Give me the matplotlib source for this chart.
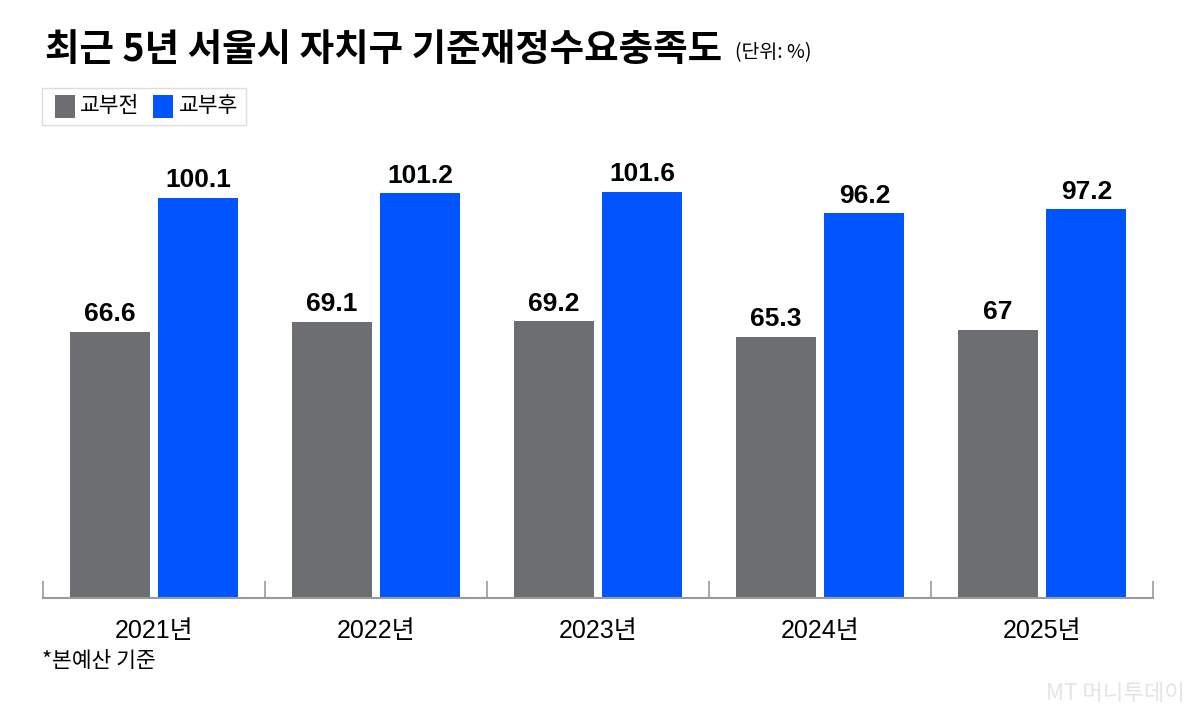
import matplotlib
matplotlib.use("Agg")
import matplotlib.pyplot as plt
import numpy as np

plt.rcParams['font.family'] = ['Noto Sans CJK KR', 'DejaVu Sans']

years = ['2021년', '2022년', '2023년', '2024년', '2025년']
before = [66.6, 69.1, 69.2, 65.3, 67]
after = [100.1, 101.2, 101.6, 96.2, 97.2]
before_lbl = ['66.6', '69.1', '69.2', '65.3', '67']
after_lbl = ['100.1', '101.2', '101.6', '96.2', '97.2']

c_gray = '#6d6e71'
c_blue = '#0055ff'
num_font = ['Liberation Sans', 'Noto Sans CJK KR']

fig = plt.figure(figsize=(12, 7.2), dpi=100)
# axes: baseline at y=598px, ~4px per unit
ax = fig.add_axes([43/1200, (720-598)/720, (1153-43)/1200, 440/720])
x = np.arange(len(years))
w = 0.36
ax.bar(x - 0.2, before, w, color=c_gray)
ax.bar(x + 0.2, after, w, color=c_blue)
ax.set_xlim(-0.5, 4.5)
ax.set_ylim(0, 110)

for i in range(len(years)):
    ax.annotate(before_lbl[i], (x[i] - 0.2, before[i]), xytext=(0, 4), textcoords='offset points',
                ha='center', va='bottom', fontsize=19, fontweight='bold', family=num_font)
    ax.annotate(after_lbl[i], (x[i] + 0.2, after[i]), xytext=(0, 4), textcoords='offset points',
                ha='center', va='bottom', fontsize=19, fontweight='bold', family=num_font)

for s in ['top', 'right', 'left']:
    ax.spines[s].set_visible(False)
ax.spines['bottom'].set_color('#9a9a9a')
ax.spines['bottom'].set_linewidth(1.5)
ax.set_yticks([])
ax.set_xticks(x)
ax.set_xticklabels(years, fontsize=18, family=num_font)
ax.tick_params(axis='x', which='major', length=0, pad=15)
ax.set_xticks(np.arange(-0.5, 5, 1), minor=True)
ax.tick_params(axis='x', which='minor', direction='in', length=12, color='#9a9a9a', width=1.2)

# title
fig.text(45/1200, 1 - 50/720, '최근 5년 서울시 자치구 기준재정수요충족도', fontsize=27, fontweight='black',
         va='center', ha='left')
fig.text(735/1200, 1 - 53/720, '(단위: %)', fontsize=14, va='center', ha='left')

# legend box
fig.patches.append(plt.Rectangle((42/1200, 1 - 125/720), 204/1200, 37/720, transform=fig.transFigure,
                                 facecolor='white', edgecolor='#dddddd', linewidth=1))
fig.patches.append(plt.Rectangle((55/1200, 1 - 118/720), 20/1200, 23/720, transform=fig.transFigure,
                                 facecolor=c_gray, edgecolor='none'))
fig.text(80/1200, 1 - 106/720, '교부전', fontsize=15.5, va='center', ha='left')
fig.patches.append(plt.Rectangle((153/1200, 1 - 118/720), 20/1200, 23/720, transform=fig.transFigure,
                                 facecolor=c_blue, edgecolor='none'))
fig.text(179/1200, 1 - 106/720, '교부후', fontsize=15.5, va='center', ha='left')

# footnote
fig.text(42/1200, 1 - 661/720, '*본예산 기준', fontsize=15.5, va='center', ha='left')

# watermark
fig.text(1185/1200, 1 - 693/720, 'MT 머니투데이', fontsize=16, color='#e4e4e4', va='center', ha='right')

fig.savefig('out.png', dpi=100)
